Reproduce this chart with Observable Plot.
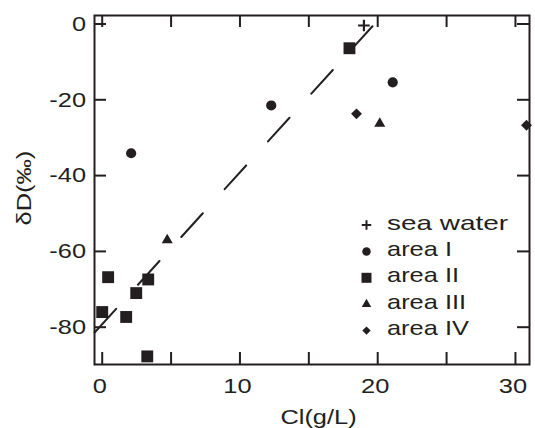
<!DOCTYPE html>
<html>
<head>
<meta charset="utf-8">
<script src="https://cdn.jsdelivr.net/npm/d3@7"></script>
<script src="https://cdn.jsdelivr.net/npm/@observablehq/plot@0.6"></script>
<style>
  html, body { margin: 0; padding: 0; background: #fff; }
  #chart { position: relative; width: 535px; height: 428px; }
</style>
</head>
<body>
<div id="chart"></div>
<script>
// ---- data ----
const seaX = [19.0];
const seaY = [-0.4];
const area1X = [2.1, 12.27, 21.09];
const area1Y = [-34.1, -21.5, -15.4];
const area2X = [17.95, 0.43, 0.0, 1.74, 2.47, 3.34, 3.27];
const area2Y = [-6.4, -66.8, -76.0, -77.3, -71.0, -67.4, -87.7];
const area3X = [4.72, 20.15];
const area3Y = [-57.0, -26.3];
const area4X = [18.46, 30.8];
const area4Y = [-23.7, -26.7];
const fitX = [-0.55, 19.62];
const fitY = [-81.4, -0.6];

const xTicks = [0, 5, 10, 15, 20, 25, 30];
const xTickLabels = [0, 10, 20, 30];
const yTicks = [0, -20, -40, -60, -80];
const legendLabels = ["sea water", "area I", "area II", "area III", "area IV"];
const xLabel = "Cl(g/L)";
const yLabel = "δD(‰)";

const toRows = (xs, ys) => xs.map((x, i) => ({x, y: ys[i]}));
const ink = "#231f20";
const font = "Liberation Sans, Arial, Helvetica, sans-serif";

const W = 535, H = 428, mL = 94, mR = 6, mT = 15, mB = 64;
const frameW = W - mL - mR, frameH = H - mT - mB, tick = 12;

const chart = Plot.plot({
  width: W, height: H, marginLeft: mL, marginRight: mR, marginTop: mT, marginBottom: mB,
  style: {fontFamily: font, fontSize: "21px", color: ink, background: "#fff"},
  x: {domain: [-0.56, 31.02]},
  y: {domain: [-89.84, 2.24]},
  marks: [
    // inward ticks on all four sides
    Plot.ruleX(xTicks, {x: d => d, insetTop: frameH - tick, stroke: ink, strokeWidth: 2}),
    Plot.ruleX(xTicks, {x: d => d, insetBottom: frameH - tick, stroke: ink, strokeWidth: 2}),
    Plot.ruleY(yTicks, {y: d => d, insetRight: frameW - tick, stroke: ink, strokeWidth: 2}),
    Plot.ruleY(yTicks, {y: d => d, insetLeft: frameW - tick, stroke: ink, strokeWidth: 2}),
    // tick labels
    Plot.axisX({anchor: "bottom", ticks: xTickLabels, tickSize: 0, tickPadding: 14, dx: -2.5, fontSize: 21, tickFormat: d => String(d), label: null}),
    Plot.axisY({anchor: "left", ticks: yTicks, tickSize: 0, tickPadding: 8.5, fontSize: 21, tickFormat: d => String(d), label: null}),
    Plot.frame({stroke: ink, strokeWidth: 2}),
    // dashed fit line
    Plot.line(toRows(fitX, fitY), {x: "x", y: "y", stroke: ink, strokeWidth: 2, strokeDasharray: "32,32.5"}),
    // points
    Plot.dot(toRows(seaX, seaY), {x: "x", y: "y", symbol: "plus", r: 3.85, stroke: ink, strokeWidth: 2.2, fill: "none"}),
    Plot.dot(toRows(area1X, area1Y), {x: "x", y: "y", symbol: "circle", r: 5.1, fill: ink, stroke: "none"}),
    Plot.dot(toRows(area2X, area2Y), {x: "x", y: "y", symbol: "square", r: 6.7, fill: ink, stroke: "none"}),
    Plot.dot(toRows(area3X, area3Y), {x: "x", y: "y", symbol: "triangle", r: 4.1, fill: ink, stroke: "none"}),
    Plot.dot(toRows(area4X, area4Y), {x: "x", y: "y", symbol: "diamond2", r: 4.9, fill: ink, stroke: "none"}),
    // axis titles
    Plot.text([xLabel], {frameAnchor: "bottom", text: d => d, dx: 6.5, dy: 53, lineAnchor: "middle", fontSize: 21, fill: ink}),
    Plot.text([yLabel], {frameAnchor: "left", text: d => d, rotate: -90, dx: -70, dy: 35.5, textAnchor: "start", lineAnchor: "middle", fontSize: 21, fill: ink})
  ]
});

document.getElementById("chart").appendChild(chart);

// legend inside the plot area
const svg = d3.select(chart);
const legendSymbols = [
  {type: d3.symbolPlus, size: 31, stroke: true},
  {type: d3.symbolCircle, size: 57},
  {type: d3.symbolSquare, size: 100},
  {type: d3.symbolTriangle, size: 39},
  {type: d3.symbolDiamond2, size: 45}
];
const lg = svg.append("g")
  .attr("font-family", font)
  .attr("font-size", 21)
  .attr("text-anchor", "start")
  .attr("fill", ink);
legendLabels.forEach((label, i) => {
  const cy = 222 + i * 26.4;
  const s = legendSymbols[i];
  lg.append("path")
    .attr("d", d3.symbol().type(s.type).size(s.size)())
    .attr("transform", `translate(366.5,${cy + 3})`)
    .attr("fill", s.stroke ? "none" : ink)
    .attr("stroke", s.stroke ? ink : "none")
    .attr("stroke-width", s.stroke ? 2 : 0);
  lg.append("text")
    .attr("x", 387)
    .attr("y", cy + 7.5)
    .attr("text-anchor", "start")
    .attr("data-stretch", i === 0 ? 1.33 : 1.21)
    .text(label);
});

// the reference typeface is wider than Liberation Sans: stretch glyphs along the baseline
svg.selectAll("text").attr("fill", ink).each(function () {
  const len = this.getComputedTextLength();
  const k = +(this.getAttribute("data-stretch") || 1.21);
  if (len > 0) {
    this.setAttribute("textLength", (len * k).toFixed(1));
    this.setAttribute("lengthAdjust", "spacingAndGlyphs");
  }
});
</script>
</body>
</html>
